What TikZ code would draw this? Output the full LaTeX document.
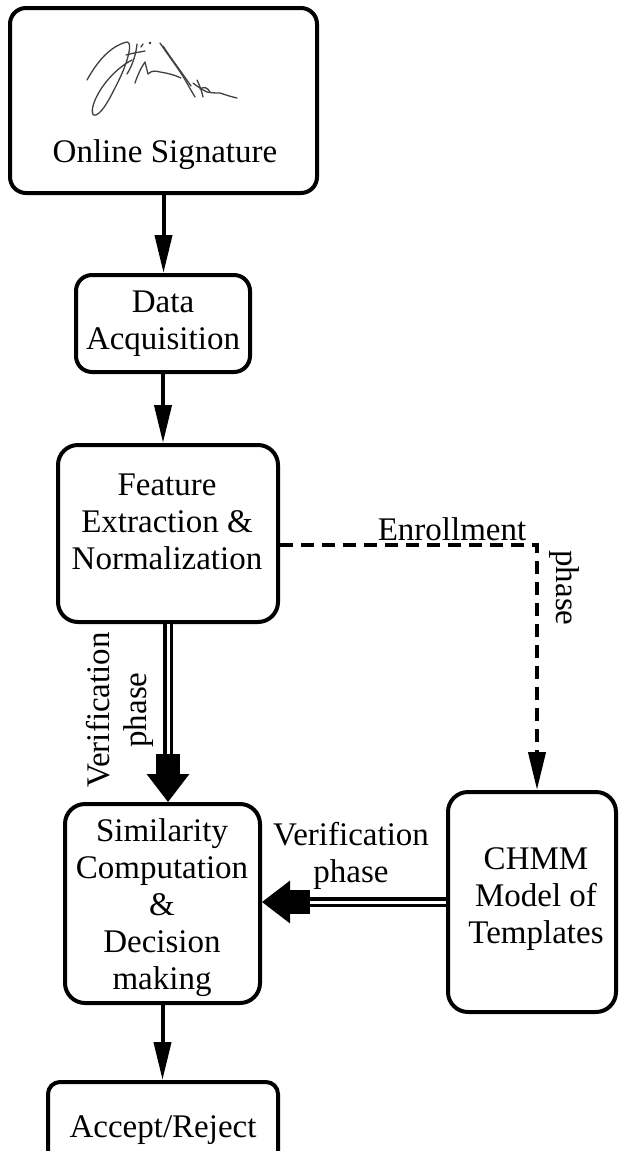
\documentclass[tikz,border=0pt]{standalone}
\usepackage{fontspec}
\setmainfont{Liberation Serif}
\usetikzlibrary{arrows.meta}
\begin{document}
\begin{tikzpicture}[x=1pt,y=-1pt,
  box/.style={draw, line width=4pt, rounded corners=16pt, inner sep=0pt},
  txt/.style={align=center, font=\fontsize{33}{37}\selectfont, inner sep=0pt},
  arr/.style={line width=4pt, -{Triangle[length=38pt,width=17pt]}},
  dbl/.style={double, line width=3.5pt, double distance=3pt, -{Rectangle[length=20pt,width=24pt]Triangle[length=28pt,width=42pt]}},
  dsh/.style={line width=4pt, dash pattern=on 13pt off 8pt, -{Triangle[length=38pt,width=17pt]}},
  sig/.style={line width=1.3pt, draw=black!75, line cap=round, line join=round}
]
\useasboundingbox (0,0) rectangle (619,1151);
\clip (0,0) rectangle (619,1151);
% boxes
\node[box, minimum width=307pt, minimum height=185pt] (os) at (163.5,100.5) {};
\node[box, minimum width=174pt, minimum height=97pt] (da) at (163,323.5) {};
\node[box, minimum width=220pt, minimum height=177pt, rounded corners=20pt] (fe) at (168,533.5) {};
\node[box, minimum width=195pt, minimum height=199pt, rounded corners=20pt] (sc) at (162.5,903.5) {};
\node[box, minimum width=168pt, minimum height=220pt, rounded corners=20pt] (ch) at (532,902) {};
\node[box, minimum width=230pt, minimum height=110pt, rounded corners=12pt] (ar) at (163,1137) {};
% texts
\node[txt, anchor=base] (tos) at (165,162) {Online Signature};
\node[txt] (tda) at (163,324) {Data\\Acquisition};
\node[txt] (tfe) at (167,521.5) {Feature\\Extraction \&\\Normalization};
\node[txt] (tsc) at (162,908) {Similarity\\Computation\\\&\\Decision\\making};
\node[txt] (tch) at (536,899) {CHMM\\Model of\\Templates};
\node[txt, anchor=base] (tar) at (163,1137) {Accept/Reject};
% signature
\draw[sig] (87,80) .. controls (97,62) and (110,46) .. (127,42)
  .. controls (133,42) and (128,62) .. (118,82)
  .. controls (110,98) and (103,112) .. (96,115)
  .. controls (90,117) and (92,105) .. (97,96)
  .. controls (105,80) and (120,66) .. (132,60);
\draw[sig] (137,44) .. controls (136,55) and (132,66) .. (127,74);
\draw[sig] (126,55) .. controls (133,53) and (140,52) .. (145,51);
\draw[sig] (141,47) -- (143,44);
\draw[sig] (135,83) .. controls (138,74) and (142,66) .. (145,62)
  .. controls (146,66) and (147,70) .. (148,74)
  .. controls (152,70) and (156,71) .. (160,72)
  .. controls (167,73) and (175,75) .. (181,78);
\draw[sig] (160,43) .. controls (168,55) and (178,68) .. (184,78)
  .. controls (188,85) and (192,92) .. (195,97);
\draw[sig] (163,46) .. controls (170,57) and (180,70) .. (191,86);
\draw[sig] (150,43) circle (0.6pt);
\draw[sig] (193,83) .. controls (198,87) and (203,90) .. (207,92)
  .. controls (212,93) and (216,93) .. (220,93)
  .. controls (226,95) and (232,97) .. (237,98);
\draw[sig] (197,80) .. controls (200,86) and (202,92) .. (203,97);
\draw[sig] (200,89) .. controls (204,86) and (208,88) .. (210,92);
% connectors
\coordinate (enr) at (537,545);
\draw[arr] (os.south) -- (os.south |- da.north);
\draw[arr] (da.south) -- (da.south |- fe.north);
\draw[dbl] (fe.south) -- (fe.south |- sc.north);
\draw[dsh] (fe.east |- enr) -- (enr) -- (enr |- ch.north);
\draw[dbl] (ch.west) -- (ch.west -| sc.east);
\draw[arr] (sc.south) -- (sc.south |- ar.north);
% labels
\node[txt, anchor=base] (lenr) at (452,540) {Enrollment};
\node[txt, rotate=-90] (lph) at (564,588) {phase};
\node[txt, rotate=90] (lv1) at (120,710) {Verification\\phase};
\node[txt] (lv2) at (351,856) {Verification\\phase};
\end{tikzpicture}
\end{document}
